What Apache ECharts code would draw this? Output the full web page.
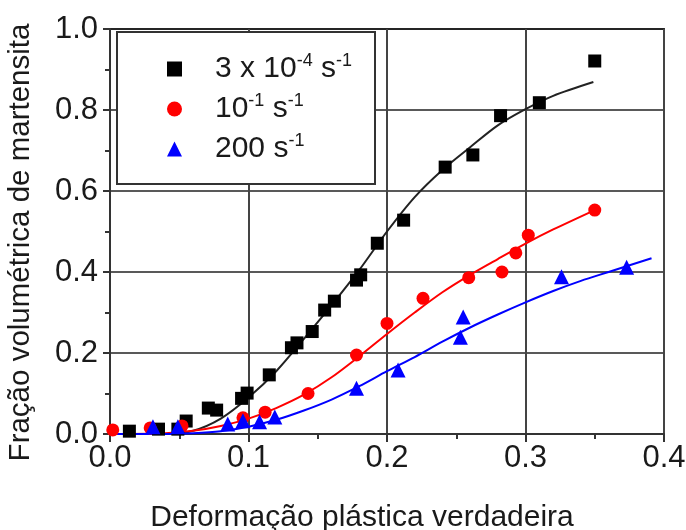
<!DOCTYPE html>
<html>
<head>
<meta charset="utf-8">
<script src="https://cdn.jsdelivr.net/npm/echarts@6/dist/echarts.min.js"></script>
<style>
  html, body { margin: 0; padding: 0; background: #fff; }
  #chart { width: 686px; height: 530px; }
</style>
</head>
<body>
<div id="chart"></div>
<script>
// Measured martensite volume fraction vs. true plastic strain, three strain rates
const strainSlow = [0.014, 0.035, 0.049, 0.055, 0.071, 0.077, 0.095, 0.099, 0.115, 0.131, 0.135, 0.146, 0.155, 0.162, 0.178, 0.181, 0.193, 0.212, 0.242, 0.262, 0.282, 0.310, 0.350];
const fracSlow   = [0.007, 0.012, 0.012, 0.032, 0.064, 0.059, 0.088, 0.101, 0.146, 0.213, 0.225, 0.253, 0.306, 0.328, 0.380, 0.393, 0.471, 0.528, 0.659, 0.689, 0.786, 0.818, 0.921];

const strainMid = [0.002, 0.029, 0.052, 0.096, 0.112, 0.143, 0.178, 0.200, 0.226, 0.259, 0.283, 0.293, 0.302, 0.350];
const fracMid   = [0.010, 0.015, 0.020, 0.040, 0.054, 0.100, 0.195, 0.273, 0.335, 0.386, 0.400, 0.447, 0.491, 0.553];

const strainFast = [0.031, 0.049, 0.085, 0.096, 0.108, 0.119, 0.178, 0.208, 0.253, 0.255, 0.326, 0.373];
const fracFast   = [0.018, 0.018, 0.025, 0.033, 0.030, 0.042, 0.113, 0.158, 0.239, 0.289, 0.388, 0.412];

// Fitted kinetics curves
const fitSlowX = [0.000, 0.040, 0.060, 0.080, 0.100, 0.120, 0.140, 0.160, 0.180, 0.200, 0.220, 0.240, 0.260, 0.280, 0.300, 0.320, 0.349];
const fitSlowY = [0.000, 0.000, 0.008, 0.038, 0.090, 0.155, 0.235, 0.318, 0.405, 0.500, 0.585, 0.652, 0.708, 0.762, 0.802, 0.835, 0.869];

const fitMidX = [0.000, 0.040, 0.060, 0.080, 0.100, 0.120, 0.140, 0.160, 0.180, 0.200, 0.220, 0.240, 0.260, 0.280, 0.300, 0.320, 0.350];
const fitMidY = [0.000, 0.002, 0.008, 0.020, 0.038, 0.064, 0.097, 0.140, 0.192, 0.247, 0.300, 0.350, 0.393, 0.432, 0.470, 0.505, 0.553];

const fitFastX = [0.000, 0.040, 0.060, 0.080, 0.100, 0.120, 0.140, 0.160, 0.180, 0.200, 0.220, 0.240, 0.260, 0.280, 0.300, 0.320, 0.340, 0.360, 0.391];
const fitFastY = [0.000, 0.000, 0.002, 0.007, 0.018, 0.035, 0.058, 0.085, 0.118, 0.155, 0.190, 0.228, 0.263, 0.295, 0.325, 0.353, 0.378, 0.400, 0.434];

// Legend labels (rich text with superscripts)
const rateNames = ['3 x 10^-4 s^-1', '10^-1 s^-1', '200 s^-1'];
const rateLabels = {
  '3 x 10^-4 s^-1': '{n|3 x 10}{s|-4}{n| s}{s|-1}',
  '10^-1 s^-1': '{n|10}{s|-1}{n| s}{s|-1}',
  '200 s^-1': '{n|200 s}{s|-1}'
};

const xTitle = 'Deformação plástica verdadeira';
const yTitle = 'Fração volumétrica de martensita';

const zip = (xs, ys) => xs.map((x, i) => [x, ys[i]]);
const FONT = '"Liberation Sans", Arial, sans-serif';
const TEXT = '#1a1a1a';

const chart = echarts.init(document.getElementById('chart'), null, { renderer: 'canvas' });

function fitLine(name, xs, ys, color) {
  return {
    name: name, type: 'line', data: zip(xs, ys),
    showSymbol: false, smooth: 0.3, silent: true, z: 3,
    lineStyle: { color: color, width: 2 }
  };
}
function points(name, xs, ys, symbol, size, color) {
  return {
    name: name, type: 'scatter', data: zip(xs, ys),
    symbol: symbol, symbolSize: size, z: 5,
    itemStyle: { color: color, opacity: 1 }
  };
}

chart.setOption({
  animation: false,
  backgroundColor: '#fff',
  grid: {
    left: 110, right: 22, top: 29, bottom: 96,
    show: true, borderColor: '#333', borderWidth: 2,
    containLabel: false, outerBoundsMode: 'none'
  },
  xAxis: {
    type: 'value', min: 0, max: 0.4, interval: 0.1,
    name: xTitle, nameLocation: 'middle', nameGap: 69,
    nameTextStyle: { fontFamily: FONT, fontSize: 30, color: TEXT, padding: [0, 50, 0, 0] },
    axisLine: { show: true, onZero: false, lineStyle: { color: '#333', width: 2 } },
    axisTick: { show: true, inside: false, length: 8, lineStyle: { color: '#333', width: 2 } },
    minorTick: { show: true, splitNumber: 2, length: 5, lineStyle: { color: '#333', width: 2 } },
    axisLabel: {
      fontFamily: FONT, fontSize: 31, color: TEXT, margin: 9,
      showMinLabel: true, showMaxLabel: true, hideOverlap: false,
      formatter: v => v.toFixed(1)
    },
    splitLine: { show: true, lineStyle: { color: '#444', width: 2 } }
  },
  yAxis: {
    type: 'value', min: 0, max: 1.0, interval: 0.2,
    name: yTitle, nameLocation: 'middle', nameGap: 74, nameRotate: 90,
    nameTextStyle: { fontFamily: FONT, fontSize: 29.5, color: TEXT, padding: [0, 22, 0, 0] },
    axisLine: { show: true, onZero: false, lineStyle: { color: '#333', width: 2 } },
    axisTick: { show: true, inside: false, length: 7, lineStyle: { color: '#333', width: 2 } },
    minorTick: { show: true, splitNumber: 2, length: 5, lineStyle: { color: '#333', width: 2 } },
    axisLabel: {
      fontFamily: FONT, fontSize: 31, color: TEXT, margin: 12,
      showMinLabel: true, showMaxLabel: true,
      formatter: v => v.toFixed(1)
    },
    splitLine: { show: true, lineStyle: { color: '#222', width: 1.5 } }
  },
  graphic: [{
    type: 'rect', left: 116, top: 31, z: 10, silent: true,
    shape: { width: 258, height: 152 },
    style: { fill: '#fff', stroke: '#333', lineWidth: 2 }
  }],
  legend: {
    show: true, orient: 'vertical', left: 167, top: 52, padding: 0,
    itemWidth: 15, itemHeight: 15, itemGap: 8, z: 12,
    data: rateNames,
    formatter: name => rateLabels[name],
    textStyle: {
      fontFamily: FONT, color: TEXT, padding: [0, 0, 0, 28],
      rich: {
        n: { fontFamily: FONT, fontSize: 30, lineHeight: 34, color: TEXT },
        s: { fontFamily: FONT, fontSize: 18, lineHeight: 18, color: TEXT, verticalAlign: 'top' }
      }
    }
  },
  series: [
    fitLine('fit-slow', fitSlowX, fitSlowY, '#222'),
    fitLine('fit-mid', fitMidX, fitMidY, '#ff0000'),
    fitLine('fit-fast', fitFastX, fitFastY, '#0000ff'),
    points(rateNames[0], strainSlow, fracSlow, 'rect', 13, '#000'),
    points(rateNames[1], strainMid, fracMid, 'circle', 13, '#ff0000'),
    points(rateNames[2], strainFast, fracFast, 'triangle', 15, '#0000ff')
  ]
});
</script>
</body>
</html>
